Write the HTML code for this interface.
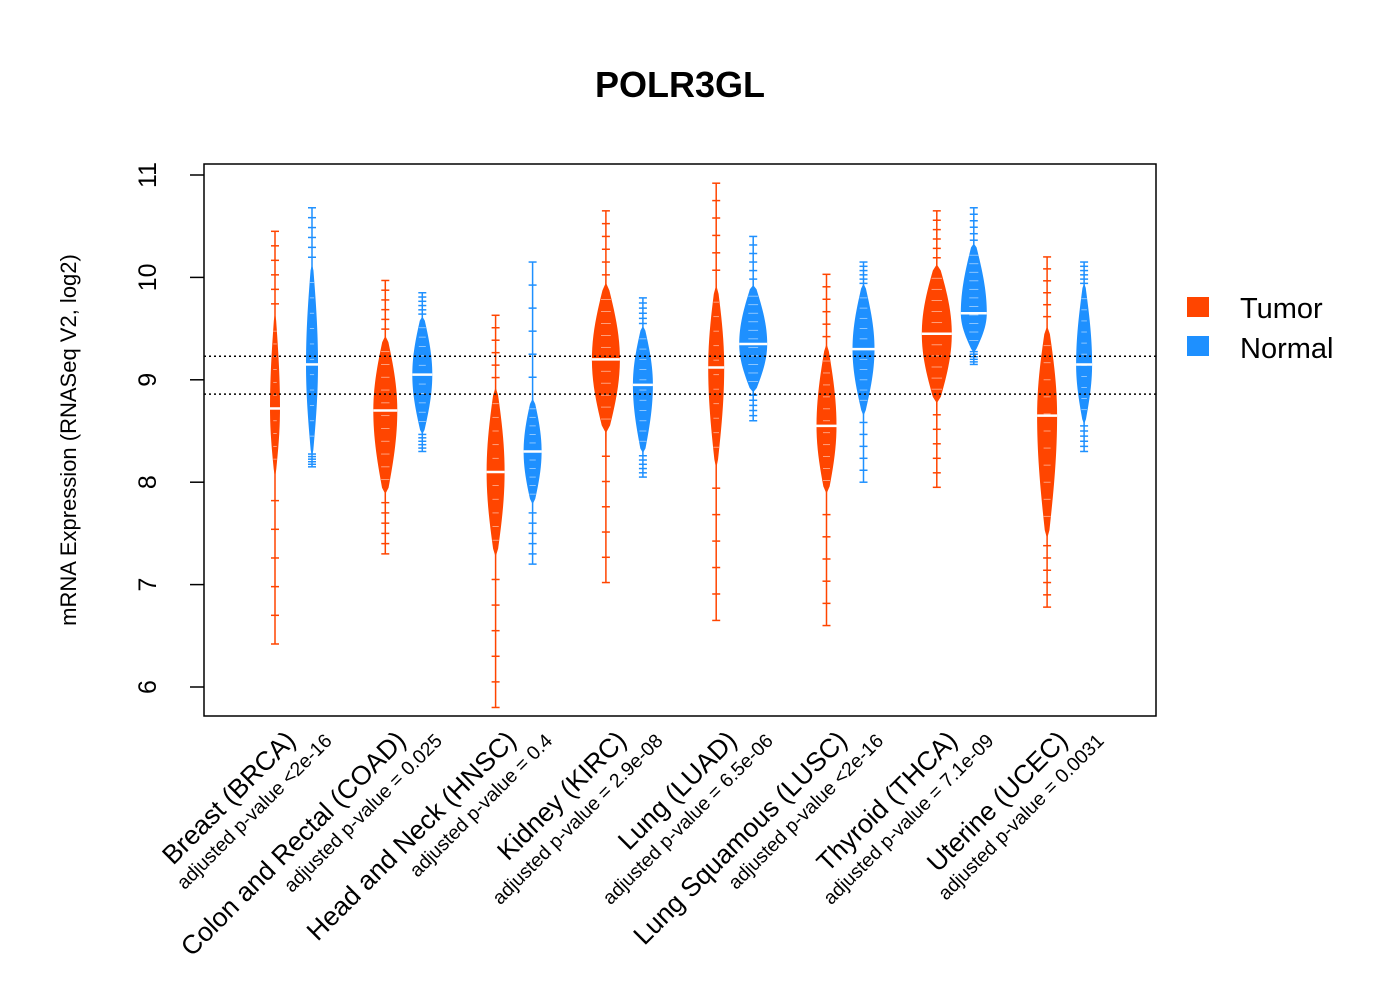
<!DOCTYPE html>
<html><head><meta charset="utf-8"><style>
body{margin:0;background:#fff;}
svg{display:block;font-family:"Liberation Sans",Arial,sans-serif;}
</style></head><body>
<svg id="chart" width="1400" height="1000">
<text x="680" y="97" font-size="36" font-weight="bold" text-anchor="middle">POLR3GL</text>
<rect x="204" y="164" width="952" height="552" fill="none" stroke="#000" stroke-width="1.5"/>
<g id="yaxis"></g>
<text transform="translate(76,440) rotate(-90)" font-size="22" text-anchor="middle">mRNA Expression (RNASeq V2, log2)</text>
<g id="beans"></g>
<g id="xlabels"></g>
<g>
<rect x="1187" y="297" width="22" height="20" fill="#ff4500"/>
<text x="1240" y="318" font-size="29">Tumor</text>
<rect x="1187" y="336" width="22" height="20" fill="#1e90ff"/>
<text x="1240" y="358" font-size="29">Normal</text>
</g>
</svg>
<script>
const categories=["Breast (BRCA)","Colon and Rectal (COAD)","Head and Neck (HNSC)","Kidney (KIRC)","Lung (LUAD)","Lung Squamous (LUSC)","Thyroid (THCA)","Uterine (UCEC)"];
const pvalues=["adjusted p-value <2e-16","adjusted p-value = 0.025","adjusted p-value = 0.4","adjusted p-value = 2.9e-08","adjusted p-value = 6.5e-06","adjusted p-value <2e-16","adjusted p-value = 7.1e-09","adjusted p-value = 0.0031"];
const tumorMin=[6.42,7.3,5.8,7.02,6.65,6.6,7.95,6.78];
const tumorMax=[10.45,9.97,9.63,10.65,10.92,10.03,10.65,10.2];
const tumorBodyLo=[8.1,7.9,7.3,8.5,8.2,7.9,8.8,7.5];
const tumorBodyHi=[9.6,9.4,8.9,9.9,9.9,9.3,10.1,9.5];
const tumorMedian=[8.72,8.7,8.1,9.2,9.12,8.55,9.45,8.65];
const tumorWidth=[0.05,0.12,0.09,0.14,0.08,0.1,0.15,0.1];
const normalMin=[8.15,8.3,7.2,8.05,8.6,8.0,9.15,8.3];
const normalMax=[10.68,9.85,10.15,9.8,10.4,10.15,10.68,10.15];
const normalBodyLo=[8.3,8.5,7.8,8.3,8.9,8.7,9.3,8.6];
const normalBodyHi=[10.1,9.6,8.8,9.5,9.9,9.9,10.3,9.9];
const normalMedian=[9.15,9.05,8.3,8.95,9.35,9.3,9.65,9.15];
const normalWidth=[0.06,0.1,0.09,0.1,0.14,0.11,0.13,0.08];
const yTicks=[6,7,8,9,10,11];
const refLines=[9.23,8.86];

const NS="http://www.w3.org/2000/svg";
const y=v=>687-(v-6)*102.4;
const xg=i=>275+i*110.3;
const svg=document.getElementById('chart');
function mk(t,a,p){const e=document.createElementNS(NS,t);for(const k in a)e.setAttribute(k,a[k]);p.appendChild(e);return e;}
const ya=document.getElementById('yaxis');
mk('line',{x1:204,x2:204,y1:y(6),y2:y(11),stroke:'#000'},ya);
yTicks.forEach(t=>{
 const l=mk('line',{x1:190,x2:204,y1:y(t),y2:y(t),stroke:'#000','stroke-width':1.5},ya);
 
 
 const tx=mk('text',{transform:`translate(156,${y(t)}) rotate(-90)`,'font-size':25,'text-anchor':'middle'},ya);
 tx.textContent=t;
 
 
});
refLines.forEach(v=>{
 const l=mk('line',{x1:204,x2:1156,y1:y(v),y2:y(v),stroke:'#000','stroke-width':1.5,'stroke-dasharray':'2,3'},svg);
 
 
});
const beans=document.getElementById('beans');
function bean(cx,mn,mx,lo,hi,med,w,col,name){
 const g=mk('g',{},beans);
 
 
 mk('line',{x1:cx,x2:cx,y1:y(mn),y2:y(mx),stroke:col,'stroke-width':1.5},g);
 const hw=w*100;const N=40;let L=[],R=[];
 const a=mn+(lo-mn)*0.4,b=hi+(mx-hi)*0.3;
 for(let k=0;k<=N;k++){
  const v=a+(b-a)*k/N;
  let s;
  if(v<med){const t=(v-lo)/(med-lo);s=v<lo?0.05*Math.max(0,1-(lo-v)/(lo-a)):0.2+0.8*Math.sin(Math.PI/2*Math.min(1,t));}
  else{const t=(hi-v)/(hi-med);s=v>hi?0.05*Math.max(0,1-(v-hi)/(b-hi)):0.2+0.8*Math.sin(Math.PI/2*Math.min(1,t));}
  L.push([cx-hw*s,y(v)]);R.unshift([cx+hw*s,y(v)]);
 }
 mk('polygon',{points:L.concat(R).map(p=>p.join(',')).join(' '),fill:col},g);
 for(let k=1;k<12;k++){const v=lo+(hi-lo)*k/12;mk('line',{x1:cx-hw*0.35,x2:cx+hw*0.35,y1:y(v),y2:y(v),stroke:'#fff','stroke-width':0.8,opacity:0.6},g);}
 for(let k=0;k<6;k++){const v=mn+(lo-mn)*k/6;mk('line',{x1:cx-4,x2:cx+4,y1:y(v),y2:y(v),stroke:col,'stroke-width':1.5},g);
  const v2=hi+(mx-hi)*(k+1)/6;mk('line',{x1:cx-4,x2:cx+4,y1:y(v2),y2:y(v2),stroke:col,'stroke-width':1.5},g);}
 mk('line',{x1:cx-hw,x2:cx+hw,y1:y(med),y2:y(med),stroke:'#fff','stroke-width':2.5},g);
}
categories.forEach((c,i)=>{
 bean(xg(i),tumorMin[i],tumorMax[i],tumorBodyLo[i],tumorBodyHi[i],tumorMedian[i],tumorWidth[i],'#ff4500','bean-tumor');
 bean(xg(i)+37,normalMin[i],normalMax[i],normalBodyLo[i],normalBodyHi[i],normalMedian[i],normalWidth[i],'#1e90ff','bean-normal');
 const xl=document.getElementById('xlabels');
 const t1=mk('text',{transform:`translate(${xg(i)+22},${742}) rotate(-45)`,'font-size':26.5,'text-anchor':'end'},xl);
 t1.textContent=c;
 
 
 const t2=mk('text',{transform:`translate(${xg(i)+58},${742}) rotate(-45)`,'font-size':19.5,'text-anchor':'end'},xl);
 t2.textContent=pvalues[i];
 
 
});
</script>
</body></html>
